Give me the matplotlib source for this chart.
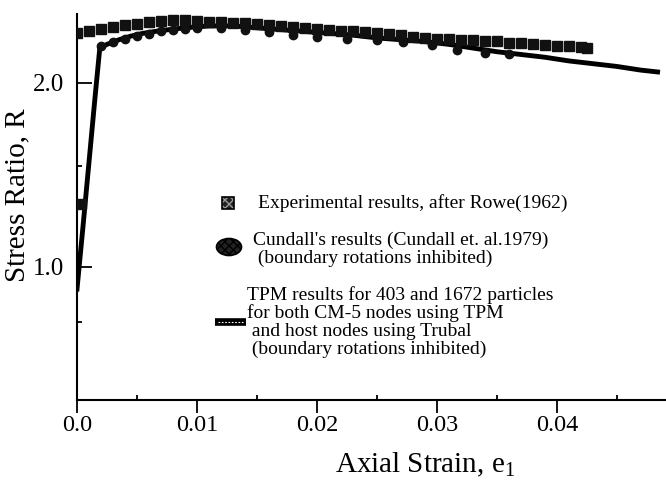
import numpy as np
import matplotlib
matplotlib.use("Agg")
import matplotlib.pyplot as plt
from matplotlib.lines import Line2D
import matplotlib.patches as mpatches

plt.rcParams['font.family'] = ['Liberation Serif', 'DejaVu Serif']
plt.rcParams['mathtext.fontset'] = 'custom'
plt.rcParams['mathtext.rm'] = 'Liberation Serif'

# Experimental results, after Rowe (1962) - squares
rowe_strain = [0.0003, 0.000, 0.001, 0.002, 0.003, 0.004, 0.005, 0.006, 0.007, 0.008,
               0.009, 0.010, 0.011, 0.012, 0.013, 0.014, 0.015, 0.016, 0.017,
               0.018, 0.019, 0.020, 0.021, 0.022, 0.023, 0.024, 0.025, 0.026,
               0.027, 0.028, 0.029, 0.030, 0.031, 0.032, 0.033, 0.034, 0.035,
               0.036, 0.037, 0.038, 0.039, 0.040, 0.041, 0.042, 0.0425]
rowe_ratio = [1.34, 2.27, 2.285, 2.295, 2.305, 2.315, 2.32, 2.33, 2.335, 2.34,
              2.34, 2.335, 2.33, 2.33, 2.325, 2.325, 2.32, 2.315, 2.31,
              2.305, 2.30, 2.295, 2.29, 2.285, 2.28, 2.275, 2.27, 2.265,
              2.26, 2.25, 2.245, 2.24, 2.24, 2.235, 2.235, 2.23, 2.23,
              2.22, 2.215, 2.21, 2.205, 2.20, 2.20, 2.195, 2.19]

# Cundall's results - circles
cundall_strain = [0.002, 0.003, 0.004, 0.005, 0.006, 0.007, 0.008, 0.009, 0.010,
                  0.012, 0.014, 0.016, 0.018, 0.020, 0.0225, 0.025, 0.0272,
                  0.0296, 0.0317, 0.034, 0.036]
cundall_ratio = [2.20, 2.225, 2.24, 2.255, 2.265, 2.28, 2.29, 2.295, 2.30,
                 2.30, 2.29, 2.275, 2.26, 2.25, 2.24, 2.235, 2.225,
                 2.205, 2.18, 2.165, 2.16]

# TPM results - line
tpm_strain = [0.0, 0.0005, 0.001, 0.0015, 0.0019, 0.0025, 0.0035,
              0.0045, 0.0055, 0.007, 0.009, 0.011, 0.013, 0.015, 0.017, 0.019,
              0.021, 0.023, 0.025, 0.027, 0.029, 0.031, 0.033, 0.035, 0.037,
              0.039, 0.041, 0.043, 0.045, 0.047, 0.0484]
tpm_ratio = [0.88, 1.22, 1.57, 1.92, 2.19, 2.21, 2.235,
             2.255, 2.27, 2.285, 2.30, 2.31, 2.31, 2.30, 2.29, 2.28,
             2.27, 2.26, 2.245, 2.235, 2.225, 2.21, 2.19, 2.17, 2.155,
             2.14, 2.12, 2.105, 2.09, 2.07, 2.06]

W, H = 666, 484
fig = plt.figure(figsize=(W / 100, H / 100), dpi=100)
ax = fig.add_axes([77 / W, 1 - 400 / H, 589 / W, 386 / H])

ax.plot(tpm_strain, tpm_ratio, color='black', lw=3.5, zorder=2)
ax.plot(cundall_strain, cundall_ratio, 'o', color='#111111', ms=6, zorder=3)
ax.plot(rowe_strain, rowe_ratio, 's', color='#111111', ms=7.2, zorder=4)

ax.set_xlim(0, 0.0491)
ax.set_ylim(0.277, 2.375)
ax.spines['top'].set_visible(False)
ax.spines['right'].set_visible(False)
ax.spines['left'].set_linewidth(1.5)
ax.spines['bottom'].set_linewidth(1.5)

ax.set_xticks([0, 0.01, 0.02, 0.03, 0.04])
ax.set_xticklabels(['0.0', '0.01', '0.02', '0.03', '0.04'])
ax.set_xticks([0.005, 0.015, 0.025, 0.035, 0.045], minor=True)
ax.set_yticks([1.0, 2.0])
ax.set_yticklabels(['1.0', '2.0'])
ax.set_yticks([0.7, 1.55], minor=True)

ax.tick_params(axis='x', which='major', direction='out', length=9, width=1.3,
               labelsize=17.5, pad=1.5)
ax.tick_params(axis='x', which='minor', direction='in', length=3.5, width=1.3)
ax.tick_params(axis='y', which='major', direction='in', length=11, width=1.3,
               labelsize=18, pad=9)
ax.tick_params(axis='y', which='minor', direction='in', length=3.5, width=1.3)

ax.set_xlabel(r'Axial Strain, e$_\mathregular{1}$', fontsize=21)
ax.set_ylabel('Stress Ratio, R', fontsize=21)
ax.xaxis.label.set_va('center')
ax.yaxis.label.set_va('center')
ax.xaxis.set_label_coords((425 - 77) / 589, -(465 - 400) / 386)
ax.yaxis.set_label_coords((17 - 77) / 589, (400 - 195) / 386)

# legend drawn by hand
def fx(px):
    return px / W

def fy(py):
    return 1 - py / H

sq = mpatches.Rectangle((fx(222), fy(209)), 12 / W, 12 / H, transform=fig.transFigure,
                        facecolor='#222222', edgecolor='#999999', hatch='xxxx', lw=0)
fig.add_artist(sq)
fig.add_artist(mpatches.Rectangle((fx(222), fy(209)), 12 / W, 12 / H, transform=fig.transFigure,
                                  facecolor='none', edgecolor='black', lw=1.2))
ell = mpatches.Ellipse((fx(229), fy(247)), 25 / W, 17 / H, transform=fig.transFigure,
                       facecolor='#222222', edgecolor='black', hatch='xxxx', lw=1.2)
fig.add_artist(ell)
fig.add_artist(Line2D([fx(215), fx(246)], [fy(322), fy(322)], transform=fig.transFigure,
                      color='black', lw=5.5, solid_capstyle='butt'))
fig.add_artist(Line2D([fx(218), fx(243)], [fy(322), fy(322)], transform=fig.transFigure,
                      color='white', lw=0.8, ls=(0, (1.5, 1.5))))

leg_size = 14
fig.text(fx(258), fy(203), 'Experimental results, after Rowe(1962)',
         fontsize=leg_size, va='center', ha='left')
fig.text(fx(253), fy(249), "Cundall's results (Cundall et. al.1979)\n (boundary rotations inhibited)",
         fontsize=leg_size, va='center', ha='left', linespacing=1.06)
fig.text(fx(247), fy(322), 'TPM results for 403 and 1672 particles\nfor both CM-5 nodes using TPM\n'
         ' and host nodes using Trubal\n (boundary rotations inhibited)',
         fontsize=leg_size, va='center', ha='left', linespacing=1.06)

fig.savefig('out.png', dpi=100)
